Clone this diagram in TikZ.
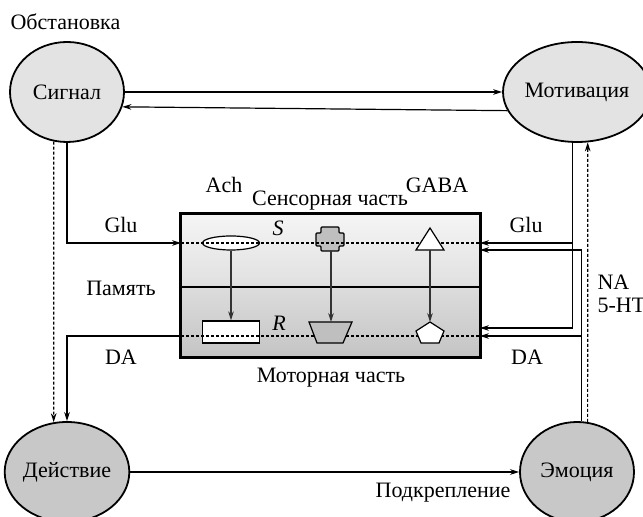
\documentclass[tikz,border=0pt]{standalone}
\usepackage{fontspec}
\setmainfont{Liberation Serif}
\usetikzlibrary{positioning,calc,arrows.meta,shapes.geometric}
\tikzset{>={Stealth[length=4.5pt,width=2.8pt]}}
\tikzset{
  lightstate/.style={ellipse,draw,line width=0.9pt,fill=gray!22,minimum width=57pt,minimum height=50pt,inner sep=0pt},
  darkstate/.style={lightstate,fill=gray!43},
  lbl/.style={inner sep=0pt},
  dotline/.style={dash pattern=on 1.5pt off 1pt},
  chem/.style={draw,fill=white,inner sep=0pt}
}

\begin{document}
\begin{tikzpicture}[x=0.5pt,y=-0.5pt,font=\fontsize{11}{13}\selectfont,line width=0.6pt]
\useasboundingbox (0,0) rectangle (643,517);
% states
\node[lightstate] (signal) at (67,92) {Сигнал};
\node[lightstate] (motiv) at (577,92) {Мотивация};
\node[darkstate] (action) at (67,472) {Действие};
\node[darkstate] (emotion) at (577,472) {Эмоция};
% memory box
\node[inner sep=0pt,minimum width=149.5pt,minimum height=36pt,top color=gray!8,bottom color=gray!24] (sens) at (330.5,250) {};
\node[inner sep=0pt,minimum width=149.5pt,minimum height=35.5pt,top color=gray!27,bottom color=gray!46] (motor) at (330.5,321.5) {};
\draw[line width=1.2pt] (sens.north west) rectangle (motor.south east);
\draw[line width=1pt] (sens.south west) -- (sens.south east);
\coordinate (sL) at (181,243);
\coordinate (sR) at (480,243);
\coordinate (sR2) at (480,250);
\coordinate (rL) at (181,336);
\coordinate (rR) at (480,336);
\coordinate (rR2) at (480,328);
% receptors under the line
\node[chem,ellipse,minimum width=28.5pt,minimum height=7pt] (ach) at (231,243) {};
\node[chem,minimum width=28.5pt,minimum height=11pt] (achR) at (231,332) {};
\draw[fill=gray!50,rounded corners=0.5pt] (321,227) -- (339,227) -- (339,233) -- (344,233) -- (344,246) -- (339,246)
  -- (339,251) -- (321,251) -- (321,246) -- (316,246) -- (316,233) -- (321,233) -- cycle;
\draw[dotline] (sL) -- (sR);
\draw[dotline] (rL) -- (rR);
% receptors over the line
\draw[fill=gray!50] (309,322) -- (352,322) -- (343,343) -- (317,343) -- cycle;
\draw[fill=white] (430,228) -- (444,250) -- (416,250) -- cycle;
\draw[fill=white] (430,322) -- (444,331) -- (439,343) -- (421,343) -- (416,331) -- cycle;
\coordinate (crossB) at (331,251);
\coordinate (trapT) at (331,322);
\coordinate (triB) at (430,250);
\coordinate (pentT) at (430,322);
\draw[->,black!80] (ach) -- (achR);
\draw[->,black!80] (crossB) -- (trapT);
\draw[->,black!80] (triB) -- (pentT);
\node[lbl] (sLbl) at (278,228) {\textit{S}};
\node[lbl] (rLbl) at (279,323) {\textit{R}};
% connectors
\draw[->] (signal.east) -- (motiv.west);
\draw[->] (motiv.-165) -- (signal.-15);
\draw[->] (action) -- (emotion);
\draw[->] (signal.south) |- (sL);
\draw[dotline,->] (signal.-105) -- (action.105);
\draw[->] (rL) -| (action.north);
\draw[->] (motiv.-95) |- (sR);
\draw[->] (motiv.-95 |- sR) |- (rR2);
\draw[->] (emotion.85) |- (sR2);
\draw[->] (emotion.85 |- rR) -- (rR);
\draw[dotline,->] (emotion.78) -- (motiv.-78);
% labels
\node[lbl,anchor=west] (setting) at (10,22) {Обстановка};
\node[lbl] (gluL) at (121,225) {Glu};
\node[lbl] (memory) at (121,288) {Память};
\node[lbl] (daL) at (121,357) {DA};
\node[lbl] (achLbl) at (224,185) {Ach};
\node[lbl] (sensLbl) at (330,201) {Сенсорная часть};
\node[lbl] (gabaLbl) at (437,185) {GABA};
\node[lbl] (gluR) at (526,225) {Glu};
\node[lbl,anchor=west] (naLbl) at (597,282) {NA};
\node[lbl,anchor=west] (htLbl) at (597,305) {5-HT};
\node[lbl] (daR) at (527,357) {DA};
\node[lbl] (motorLbl) at (331,378) {Моторная часть};
\node[lbl] (reinf) at (443,493) {Подкрепление};
\end{tikzpicture}
\end{document}
